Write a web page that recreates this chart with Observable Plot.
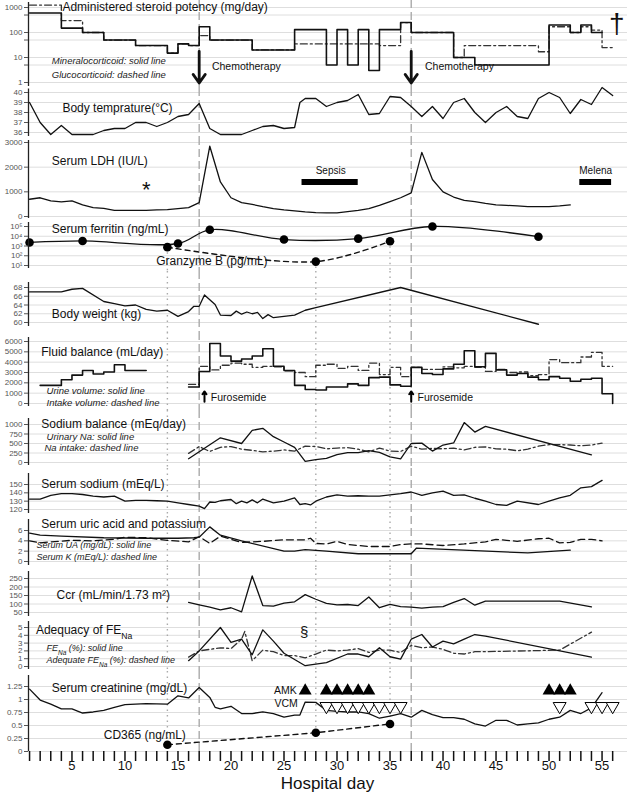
<!DOCTYPE html>
<html><head><meta charset="utf-8">
<script src="https://cdn.jsdelivr.net/npm/d3@7"></script>
<script src="https://cdn.jsdelivr.net/npm/@observablehq/plot@0.6"></script>
<style>
body{margin:0;background:#fff;}
#chart{position:relative;width:627px;height:798px;font-family:"Liberation Sans",Arial,sans-serif;}
#chart svg{position:absolute;left:0;overflow:visible;}
</style></head><body><div id="chart"></div><script>
const FONT = '"Liberation Sans", Arial, Helvetica, sans-serif';
const W = 627, ML = 28;
const xDomain = [0.9, 57.4];
const chemoDays = [17, 37];
const sampleDays = [14, 28, 35];

// Steroid potency (mg/day), step series
const minDays = [1,4,6,8,11,14,15,16,17,18,22,26,29,30,31,32,33,34,36,37,41,43,50,52,53,54,55];
const minVals = [600,150,100,50,30,15,35,30,170,50,20,130,5,130,5,130,3,130,250,100,10,5,200,100,200,100,100];
const gluDays = [1,4,6,8,11,14,15,16,17,18,22,26,34,36,37,41,42,49,50,52,53,54,55,56];
const gluVals = [1250,300,100,50,30,15,35,30,75,50,20,35,30,250,100,10,30,17,170,100,170,125,25,25];

// Body temperature
const tempDays = [1,2,3,4,5,6,7,8,9,10,11,12,13,14,15,16,17,18,19,20,21,22,23,24,25,26,26.5,27,28,29,30,31,32,33,34,35,36,37,38,39,40,41,42,43,44,45,46,47,48,49,50,51,52,53,54,55,56];
const tempVals = [39.0,37.0,35.8,36.7,35.8,35.8,35.8,36.2,36.4,36.4,37.0,37.0,36.6,37.0,37.6,37.8,38.9,36.4,35.8,35.8,35.8,36.2,36.6,36.7,36.4,36.5,39.0,39.4,39.4,38.6,39.0,39.2,39.8,37.8,37.9,39.6,39.5,38.6,37.6,38.6,37.4,39.0,39.4,38.0,37.0,38.0,38.6,37.6,37.4,39.4,40.0,39.5,37.9,39.3,38.8,40.5,39.7];

// LDH
const ldhDays = d3.range(1, 53);
const ldhVals = [700,760,630,590,630,470,360,330,250,250,250,250,270,280,320,360,560,2850,1400,760,560,490,400,320,270,230,190,160,150,150,200,250,320,450,600,760,960,2600,1500,1000,790,650,600,530,470,450,430,400,400,400,430,470];

// Ferritin & granzyme B
const ferDays = [1,6,15,18,25,32,39,49];
const ferVals = [2300,3300,1800,46000,4600,5700,100000,9000];
const gzDays = [14,28,35];
const gzVals = [760,25,3100];

// Body weight
const wDays = [1,4,5,6,8,9,10,11,12,13,14,15,16,16.5,17,17.5,18.5,19,20,20.5,21,21.5,22,22.5,23,23.5,24,26,27,28,36,49];
const wVals = [67.0,67.0,67.6,67.8,64.8,64.3,63.8,64.0,63.0,62.6,62.8,61.4,62.5,63.7,63.7,66.3,64.1,61.7,61.6,62.6,61.9,62.4,62.0,62.3,60.9,61.8,61.1,61.7,62.8,63.4,68.0,59.6];

// Fluid balance (step)
const urDays = [2,4,5,6,7,8,9,10,12,13].concat(d3.range(16, 57));
const urVals = [1750,2300,2750,3200,2850,3050,3750,3200,3200,null,
  1600,3100,5800,4600,4100,4300,4600,5300,3600,3200,
  1750,1350,1300,1600,1600,1900,1750,2500,2550,1800,
  1670,3500,2900,2800,3350,3800,5100,3550,4850,3250,
  2750,2900,2550,2300,2600,2450,2150,2350,2450,950,0];
const inDays = d3.range(16, 57);
const inVals = [1850,3600,3250,3700,3900,3800,3500,3600,3550,3150,
  3000,2600,3700,3800,3400,3600,3200,3900,2800,3500,
  2600,3500,3300,3300,3550,3450,3600,3500,3100,3300,
  3000,3050,2700,2800,4250,3950,3950,4500,4950,3600,3600];

// Sodium balance
const unaDays = [16,19,21,22,23,24,25,26,27,28,29,30,31,32,33,34,35,36,37,38,39,40,41,42,43,44,54];
const unaVals = [100,650,500,845,900,680,540,400,30,75,110,205,260,260,315,265,150,95,500,510,300,460,515,1050,800,950,200];
const naiDays = d3.range(16, 56);
const naiVals = [240,420,290,400,420,350,320,280,300,330,300,430,420,360,380,390,350,280,380,300,290,430,350,370,360,380,330,400,410,360,350,310,350,430,470,470,460,440,460,510];

// Serum sodium
const snaDays = [1,2,3,4,5,6,7,8,9,10,11,12,13,14,15,16,17,17.5,18,18.5,19,20,20.5,21,21.5,22,22.5,23,24,25,26,26.5,27,27.5,28,29,30,31,32,33,34,35,36,37,38,39,40,41,42,43,44,45,46,47,49,50,51,52,53,54,55];
const snaVals = [132.5,132.5,137,139,139,138,136,135,136,130,131,131,130.5,130,128,126,124,121,129,128.5,130.5,132,127,130,128,131.5,128,132.5,128,130,134,126,127,125.5,130,135,137.5,136,136.5,136,136,137.5,139,141,137,140,142,137,137.5,133.5,130,126,125,130,126,130,134,137,146,147.5,155];

// Uric acid & potassium
const uaDays = [1,2,4,8,12,15,16.5,17,18,19,21,25,26,27,29,32,37,37.5,48,52];
const uaVals = [5.5,5.1,4.9,4.6,4.5,4.5,4.6,4.7,6.7,5.1,4.0,2.0,2.0,2.3,2.0,1.5,1.5,2.6,1.65,2.2];
const kDays = [1,2,3,5,7,9,10,12,14,16,17,18,19,20,21,22,23,25,27,27.5,28,29,30,31,33,35,36,37,38,40,42,44,45,46,47,49,50,51,52,53,54,55];
const kVals = [4.0,3.6,3.8,4.1,4.0,4.3,4.7,4.6,4.1,3.8,4.8,3.5,4.9,4.3,3.7,3.8,3.9,4.2,4.2,4.5,3.5,3.4,3.9,3.3,2.9,2.9,3.3,3.4,3.4,3.1,3.4,3.8,4.3,4.1,3.9,4.4,4.5,3.6,3.7,4.3,4.3,4.0];

// Ccr
const ccrDays = [16,17,18,19,20,21,22,23,24,25,26,27,28,29,30,31,32,33,34,35,36,37,38,39,40,41,42,43,44,51,54];
const ccrVals = [109,95,82,65,78,54,265,91,88,105,113,155,128,104,95,97,91,141,78,98,85,82,76,82,85,109,132,93,117,117,83];

// FENa
const feDays = [16,17,19,20,21,22,23,24,25,27,29,31,32,33,34,35,36,37,38,39,40,41,42,43,44,54];
const feVals = [0.75,2.0,5.0,3.1,3.5,1.5,4.7,3.25,1.7,0.1,0.5,1.6,1.6,1.25,2.4,1.25,0.95,3.5,4.1,2.5,3.25,2.9,3.5,4.1,3.9,1.2];
const adDays = [16,17,19,20,21,21.3,22,23,24,25,26,27,28,29,30,31,32,33,34,35,36,37,38,39,40,41,42,43,44,51,54];
const adVals = [1.2,2.0,2.4,2.3,3.5,4.5,0.75,2.1,1.9,1.4,1.4,1.1,1.6,2.1,2.0,2.1,2.3,1.8,2.1,2.1,1.8,2.7,2.4,2.5,2.2,1.7,1.6,1.9,1.9,2.1,4.4];

// Serum creatinine & CD365
const crDays = d3.range(1,19).concat([18.5], d3.range(19,27), [26.5], d3.range(27,56));
const crVals = [1.20,0.99,0.91,0.82,0.82,0.74,0.76,0.79,0.85,0.90,0.91,0.92,0.915,0.91,1.07,1.03,1.23,1.04,
  0.85,
  0.82,0.87,0.73,0.73,0.76,0.73,0.66,0.70,
  0.70,
  0.95,0.945,0.79,0.77,0.76,0.76,0.73,0.64,0.68,0.73,0.66,0.79,0.71,0.65,0.65,0.62,0.53,0.49,0.60,0.60,0.51,0.53,0.55,0.62,0.66,0.79,0.73,0.84,1.13];
const cdDays = [14,28,35];
const cdVals = [0.13,0.36,0.53];
const amkDays = [27,29,30,31,32,33,50,51,52];
const vcmDays = [29,30,31,32,33,34,35,36,51,54,55,56];

const zip = (xs, ys) => xs.map((x, i) => ({x, y: ys[i]}));
const DASHDOT = "7,3,2,3";
const chemoRule = () => Plot.ruleX(chemoDays, {stroke: "#aaa", strokeWidth: 1.4, strokeDasharray: "8,4"});
const sampleRule = () => Plot.ruleX(sampleDays, {stroke: "#aaa", strokeWidth: 1.4, strokeDasharray: "1.5,4"});
const T = (x, y, text, o = {}) => Plot.text([{x, y, text}], {x: "x", y: "y", text: "text", textAnchor: "start", fontSize: 12, fill: "#111", ...o});
const I = (x, y, text, fs = 9.5) => T(x, y, text, {fontSize: fs, fontStyle: "italic", fill: "#222"});
const L = (data, o = {}) => Plot.line(data, {x: "x", y: "y", stroke: "#111", strokeWidth: 1.3, ...o});

const chart = document.getElementById("chart");

function panel(cfg) {
  const {top, bottom, type = "linear", a, b, ticks, fmt = d => String(d), axisSpan, marks, xaxis = false} = cfg;
  const frameBottom = cfg.frameBottom ?? bottom;
  const f = type === "log" ? Math.log10 : d => d;
  const fi = type === "log" ? d => Math.pow(10, d) : d => d;
  const k = (b[1] - a[1]) / (f(b[0]) - f(a[0]));
  const inv = p => fi(f(a[0]) + (p - a[1]) / k);
  const ctx = {inv, yMin: inv(frameBottom), yMax: inv(top)};
  const svg = Plot.plot({
    width: W, height: bottom - top,
    marginLeft: ML, marginRight: 0, marginTop: 0, marginBottom: bottom - frameBottom,
    x: xaxis ? {domain: xDomain} : {domain: xDomain, axis: null},
    y: {type, domain: [ctx.yMin, ctx.yMax], range: [frameBottom - top, 0]},
    style: {background: "transparent", overflow: "visible", fontFamily: FONT},
    marks: [
      Plot.ruleY(ticks, {stroke: "#dedede", strokeWidth: 1}),
      ...marks(ctx),
      Plot.ruleX([{x: xDomain[0], y1: inv(axisSpan[0]), y2: inv(axisSpan[1])}], {x: "x", y1: "y1", y2: "y2", stroke: "#222", strokeWidth: 1.3}),
      Plot.axisY({ticks, tickFormat: fmt, tickSize: 4, tickPadding: 2, fontSize: 8, color: "#555", label: null, anchor: "left"})
    ]
  });
  svg.style.top = top + "px";
  chart.appendChild(svg);
}

const sup = ["⁰","¹","²","³","⁴","⁵"];

// 1 Steroid
panel({top: 0, bottom: 88, type: "log", a: [1000, 7], b: [1, 82], ticks: [1,5,10,50,100,500,1000], axisSpan: [2, 86],
  marks: () => [
    chemoRule(),
    L(zip(gluDays, gluVals), {curve: "step-after", stroke: "#333", strokeDasharray: DASHDOT, strokeWidth: 1.3}),
    L(zip(minDays, minVals), {curve: "step-after", strokeWidth: 1.6}),
    Plot.arrow(chemoDays.map(d => ({x: d, y1: 17.6, y2: 0.95})), {x1: "x", x2: "x", y1: "y1", y2: "y2", strokeWidth: 2.8, headLength: 13, headAngle: 70, stroke: "#111"}),
    T(4.1, 1000, "Administered steroid potency (mg/day)"),
    I(3.1, 7.2, "Mineralocorticoid: solid line"),
    I(3.1, 2.0, "Glucocorticoid: dashed line"),
    T(18.2, 4.5, "Chemotherapy", {fontSize: 10.5}),
    T(38.3, 4.5, "Chemotherapy", {fontSize: 10.5}),
    T(56.4, 216, "†", {fontSize: 28, textAnchor: "middle"})
  ]});

// 2 Temperature
panel({top: 88, bottom: 137, a: [40, 92], b: [36, 132], ticks: [36,37,38,39,40], axisSpan: [88.5, 136],
  marks: () => [chemoRule(), L(zip(tempDays, tempVals)), T(4.1, 38.45, "Body temprature(°C)")]});

// 3 LDH
panel({top: 137, bottom: 219, a: [3000, 142], b: [0, 216], ticks: [0,1000,2000,3000], axisSpan: [140, 218],
  marks: () => [chemoRule(), L(zip(ldhDays, ldhVals)),
    Plot.ruleY([{x1: 26.7, x2: 32, y: 1400}, {x1: 52.9, x2: 55.9, y: 1400}], {x1: "x1", x2: "x2", y: "y", strokeWidth: 6, stroke: "#000"}),
    T(29.4, 1850, "Sepsis", {fontSize: 10, textAnchor: "middle"}),
    T(54.4, 1850, "Melena", {fontSize: 10, textAnchor: "middle"}),
    T(12, 1100, "*", {fontSize: 22, textAnchor: "middle", dy: 1}),
    T(3.1, 2250, "Serum LDH (IU/L)")]});

// 4 Ferritin / Granzyme B
panel({top: 219, bottom: 271, type: "log", a: [1e5, 226], b: [10, 265], ticks: [10,100,1e3,1e4,1e5], fmt: d => "10" + sup[Math.round(Math.log10(d))], axisSpan: [222, 268],
  marks: (c) => [chemoRule(),
    Plot.ruleX(zip(gzDays, gzVals), {x: "x", y1: "y", y2: c.yMin, stroke: "#aaa", strokeWidth: 1.4, strokeDasharray: "1.5,4"}),
    L(zip(ferDays, ferVals), {curve: "catmull-rom"}),
    L(zip(gzDays, gzVals), {curve: "catmull-rom", strokeDasharray: "5,4", strokeWidth: 1.4}),
    Plot.dot(zip(ferDays, ferVals), {x: "x", y: "y", r: 4.3, fill: "#000"}),
    Plot.dot(zip(gzDays, gzVals), {x: "x", y: "y", r: 4.3, fill: "#000"}),
    T(3.1, 58000, "Serum ferritin (ng/mL)"),
    T(18.2, 30, "Granzyme B (pg/mL)", {textAnchor: "middle"})]});

// 5 Body weight
panel({top: 271, bottom: 332, a: [68, 287], b: [60, 322], ticks: [60,62,64,66,68], axisSpan: [282, 326],
  marks: () => [chemoRule(), sampleRule(), L(zip(wDays, wVals)), T(3.1, 61.8, "Body weight (kg)")]});

// 6 Fluid balance
panel({top: 332, bottom: 410, a: [6000, 341], b: [0, 403], ticks: d3.range(0, 6001, 1000), axisSpan: [337, 406],
  marks: () => [chemoRule(), sampleRule(),
    L(zip(inDays, inVals), {curve: "step-after", stroke: "#333", strokeDasharray: DASHDOT, strokeWidth: 1.3}),
    L(zip(urDays, urVals), {curve: "step-after", strokeWidth: 1.6}),
    Plot.arrow([{x: 17.5}, {x: 37}].map(d => ({...d, y1: 160, y2: 1170})), {x1: "x", x2: "x", y1: "y1", y2: "y2", strokeWidth: 2, headLength: 6, headAngle: 70, stroke: "#000"}),
    T(18.1, 570, "Furosemide", {fontSize: 10.5}),
    T(37.6, 570, "Furosemide", {fontSize: 10.5}),
    T(2.1, 4960, "Fluid balance (mL/day)"),
    I(2.6, 1260, "Urine volume: solid line"),
    I(2.6, 60, "Intake volume: dashed line")]});

// 7 Sodium balance
panel({top: 410, bottom: 468, a: [1000, 424], b: [0, 462], ticks: [0,250,500,750,1000], axisSpan: [418, 465],
  marks: () => [chemoRule(), sampleRule(),
    L(zip(naiDays, naiVals), {stroke: "#333", strokeDasharray: DASHDOT}),
    L(zip(unaDays, unaVals)),
    T(2.1, 1000, "Sodium balance (mEq/day)"),
    I(2.6, 680, "Urinary Na: solid line"),
    I(2.4, 380, "Na intake: dashed line")]});

// 8 Serum sodium
panel({top: 468, bottom: 516, a: [150, 484], b: [120, 509], ticks: [120,130,140,150], axisSpan: [473, 513],
  marks: () => [chemoRule(), sampleRule(), L(zip(snaDays, snaVals)), T(2.1, 150, "Serum sodium (mEq/L)")]});

// 9 Uric acid / K
panel({top: 516, bottom: 568, a: [6, 530], b: [0, 561], ticks: [0,2,4,6], axisSpan: [519, 565],
  marks: () => [chemoRule(), sampleRule(),
    L(zip(kDays, kVals), {strokeDasharray: "7,4"}),
    L(zip(uaDays, uaVals)),
    T(2.1, 7.3, "Serum uric acid and potassium"),
    I(1.65, 3.1, "Serum UA (mg/dL): solid line", 9),
    I(1.65, 0.9, "Serum K (mEq/L): dashed line", 9)]});

// 10 Ccr
panel({top: 568, bottom: 618, a: [250, 578], b: [50, 612], ticks: [50,100,150,200,250], axisSpan: [571, 616],
  marks: () => [chemoRule(), sampleRule(), L(zip(ccrDays, ccrVals)), T(3.55, 154, "Ccr (mL/min/1.73 m²)")]});

// 11 FENa
panel({top: 618, bottom: 671, a: [5, 627], b: [0, 666], ticks: [0,1,2,3,4,5], axisSpan: [621, 669],
  marks: () => [chemoRule(), sampleRule(),
    L(zip(adDays, adVals), {stroke: "#333", strokeDasharray: DASHDOT}),
    L(zip(feDays, feVals)),
    T(1.6, 4.65, "Adequacy of FE_{Na}"),
    I(2.6, 2.35, "FE_{Na} (%): solid line", 9),
    I(2.6, 0.8, "Adequate FE_{Na} (%): dashed line", 9),
    T(26.9, 4.4, "§", {fontSize: 15, textAnchor: "middle"})]});

// 12 Creatinine
panel({top: 671, bottom: 798, frameBottom: 751, a: [1.25, 686], b: [0, 751], ticks: [0,0.25,0.5,0.75,1,1.25], axisSpan: [675, 751], xaxis: true,
  marks: (c) => [chemoRule(),
    Plot.ruleX(zip(cdDays, cdVals), {x: "x", y1: c.yMax, y2: "y", stroke: "#aaa", strokeWidth: 1.4, strokeDasharray: "1.5,4"}),
    L(zip(crDays, crVals)),
    L(zip(cdDays, cdVals), {strokeDasharray: "5,4", strokeWidth: 1.4}),
    Plot.dot(zip(cdDays, cdVals), {x: "x", y: "y", r: 4.3, fill: "#000"}),
    Plot.dot(amkDays.map(d => ({x: d, y: 1.17})), {x: "x", y: "y", symbol: "triangle", r: 4.8, fill: "#000"}),
    Plot.dot(vcmDays.map(d => ({x: d, y: 0.87})), {x: "x", y: "y", symbol: "triangle", rotate: 180, r: 4.8, fill: "#fff", stroke: "#000", strokeWidth: 1}),
    T(26.2, 1.17, "AMK", {fontSize: 10.5, textAnchor: "end"}),
    T(26.3, 0.915, "VCM", {fontSize: 10.5, textAnchor: "end"}),
    T(3.1, 1.22, "Serum creatinine (mg/dL)"),
    T(8.0, 0.32, "CD365 (ng/mL)"),
    Plot.axisX({ticks: d3.range(1, 57), tickSize: 10, tickFormat: () => "", strokeWidth: 1.5, color: "#111", label: null}),
    Plot.axisX({ticks: d3.range(5, 56, 5), tickSize: 0, tickPadding: 9, fontSize: 13, color: "#111", label: null}),
    Plot.text(["Hospital day"], {x: 29.1, frameAnchor: "bottom", dy: 37, fontSize: 17, textAnchor: "middle", fill: "#111"})
  ]});

// subscripts (e.g. FE_{Na})
chart.querySelectorAll("text").forEach(t => {
  const s = t.textContent;
  if (!s.includes("_{")) return;
  while (t.firstChild) t.removeChild(t.firstChild);
  s.split(/(_\{[^}]*\})/).forEach(p => {
    if (!p) return;
    const ts = document.createElementNS("http://www.w3.org/2000/svg", "tspan");
    if (p.startsWith("_{")) {
      ts.textContent = p.slice(2, -1);
      ts.setAttribute("font-size", "0.72em");
      ts.setAttribute("baseline-shift", "sub");
    } else ts.textContent = p;
    t.appendChild(ts);
  });
});
</script></body></html>
